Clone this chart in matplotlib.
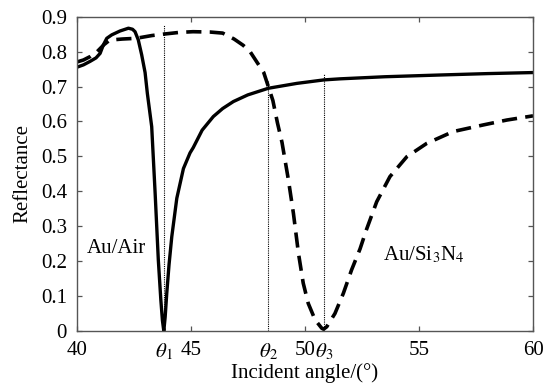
import matplotlib.pyplot as plt
import numpy as np

# Au/Air curve (solid)
air_x = [40.0, 40.3, 40.59, 40.85, 41.03, 41.17, 41.32, 41.54, 41.9, 42.27, 42.45, 42.56, 42.7,
         42.85, 43.0, 43.1, 43.29, 43.44, 43.58, 43.69, 43.76, 43.82, 43.88, 43.95, 44.05, 44.17,
         44.39, 44.68, 44.97, 45.11, 45.5, 45.99, 46.4, 46.87, 47.5, 48.4, 49.65, 50.84, 51.54,
         53.5, 55.92, 58.0, 60.0]
air_r = [0.755, 0.762, 0.772, 0.782, 0.795, 0.819, 0.838, 0.848, 0.859, 0.867, 0.864, 0.857, 0.834,
         0.791, 0.74, 0.68, 0.585, 0.395, 0.203, 0.089, 0.03, 0.0, 0.04, 0.108, 0.19, 0.27,
         0.38, 0.465, 0.51, 0.525, 0.575, 0.614, 0.637, 0.657, 0.676, 0.695, 0.709, 0.719, 0.722,
         0.728, 0.733, 0.737, 0.74]

# Au/Si3N4 curve (dashed)
sin_x = [40.0, 40.3, 40.6, 40.9, 41.2, 41.45, 42.0, 42.6, 43.3, 43.8, 44.5, 45.1, 45.85, 46.4,
         46.9, 47.3, 47.6, 47.9, 48.2, 48.4, 48.6, 48.8, 49.0, 49.28, 49.5, 49.72, 49.93, 50.15,
         50.45, 50.74, 50.82, 50.96, 51.32, 51.69, 52.05, 52.42, 52.7, 53.15, 53.73, 54.47, 55.34,
         56.5, 57.82, 58.85, 60.0]
sin_r = [0.77, 0.776, 0.786, 0.80, 0.82, 0.833, 0.836, 0.838, 0.846, 0.850, 0.855, 0.857, 0.856, 0.853,
         0.836, 0.818, 0.80, 0.77, 0.74, 0.70, 0.66, 0.596, 0.54, 0.433, 0.337, 0.223, 0.137, 0.079,
         0.032, 0.008, 0.005, 0.012, 0.05, 0.108, 0.175, 0.235, 0.29, 0.37, 0.442, 0.499, 0.537,
         0.571, 0.59, 0.604, 0.616]

# resonance angles and heights of the dotted markers
theta_x = [43.82, 48.4, 50.83]
theta_top = [0.877, 0.719, 0.735]
theta_labels = [r'$\theta_1$', r'$\theta_2$', r'$\theta_3$']

plt.rcParams['font.family'] = ['Liberation Serif', 'DejaVu Serif']
plt.rcParams['mathtext.fontset'] = 'stix'

fig = plt.figure(figsize=(5.45, 3.88), dpi=100)
ax = fig.add_axes([0.1406, 0.147, 0.8374, 0.810])

ax.plot(air_x, air_r, color='black', lw=2.4)
ax.plot(sin_x, sin_r, color='black', lw=2.6, dashes=(4.2, 2.3))
for tx, tt in zip(theta_x, theta_top):
    ax.plot([tx, tx], [0, tt], color='black', lw=0.8, ls=(0, (1, 1)))

ax.text(40.46, 0.223, 'Au/Air', fontsize=15)
ax.text(53.43, 0.203, r'Au/Si$_3$N$_4$', fontsize=15)

ax.set_xlim(40, 60)
ax.set_ylim(0, 0.9)
ax.set_xticks([40, 45, 50, 55, 60])
ax.set_xticklabels(['40', '45', '50', '55', '60'])
ax.set_xticks(theta_x, minor=True)
ax.set_xticklabels(theta_labels, minor=True)
ax.set_yticks(np.arange(0, 0.91, 0.1))
ax.set_yticklabels(['0', '0.1', '0.2', '0.3', '0.4', '0.5', '0.6', '0.7', '0.8', '0.9'])
ax.tick_params(which='major', direction='in', top=True, right=True, length=3.5,
               labelsize=15, width=0.9, color='#555555')
ax.tick_params(axis='x', which='major', pad=7)
ax.tick_params(axis='y', which='major', pad=7)
ax.tick_params(which='minor', length=0, labelsize=15, pad=7.5)
ax.set_xlabel('Incident angle/(°)', fontsize=15, labelpad=1)
ax.set_ylabel('Reflectance', fontsize=15, labelpad=6)
for s in ax.spines.values():
    s.set_linewidth(1.0)
    s.set_color('#555555')

fig.savefig('out.png', dpi=100)
